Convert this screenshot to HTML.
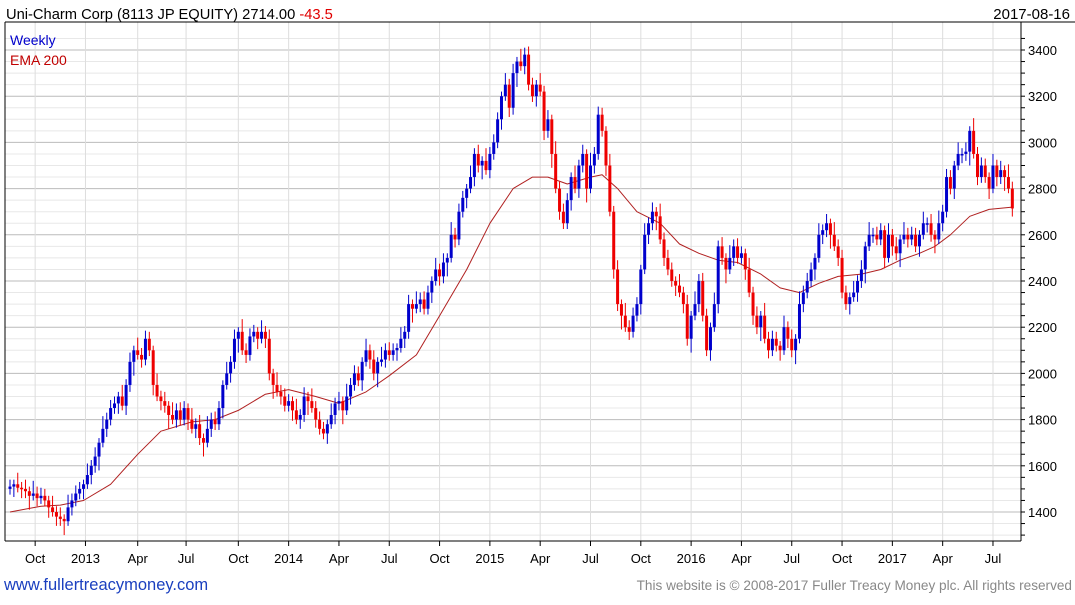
<!DOCTYPE html>
<html><head><meta charset="utf-8"><style>
body{margin:0;background:#fff;font-family:"Liberation Sans",sans-serif}
svg text{font-family:"Liberation Sans",sans-serif}
</style></head><body>
<svg id="c" width="1075" height="600" xmlns="http://www.w3.org/2000/svg">
<rect width="1075" height="600" fill="#fff"/>
<g id="grid"></g><g id="ema"></g><g id="candles"></g><g id="axes"></g>
<text x="6" y="19" font-size="14.7" fill="#000">Uni-Charm Corp (8113 JP EQUITY) 2714.00 <tspan fill="#e00000">-43.5</tspan></text>
<text x="1070" y="19" font-size="15" text-anchor="end" fill="#000">2017-08-16</text>
<text x="10" y="45" font-size="14" fill="#0000cc">Weekly</text>
<text x="10" y="65" font-size="14" fill="#c00000">EMA 200</text>
<text x="4" y="590" font-size="16.5" fill="#1a3fbf">www.fullertreacymoney.com</text>
<text x="1072" y="590" font-size="13.6" text-anchor="end" fill="#888">This website is © 2008-2017 Fuller Treacy Money plc. All rights reserved</text>
</svg>
<script>
const closes=[1510,1520,1505,1500,1490,1470,1480,1460,1470,1450,1420,1400,1380,
1370,1360,1420,1450,1480,1500,1520,1560,1600,1640,1700,1760,1800,
1850,1870,1900,1860,1950,2050,2100,2080,2060,2150,2100,1950,1900,
1880,1860,1820,1800,1840,1800,1850,1800,1760,1780,1720,1700,1760,
1800,1780,1850,1950,2000,2050,2150,2180,2100,2080,2160,2180,2150,
2180,2150,2000,1950,1920,1900,1860,1880,1840,1800,1820,1900,1880,
1850,1800,1760,1740,1780,1820,1870,1880,1840,1900,1950,2000,1970,
2050,2100,2060,2000,2050,2060,2100,2080,2100,2110,2150,2180,2300,
2280,2300,2320,2280,2350,2400,2450,2420,2480,2500,2600,2580,2700,
2760,2800,2850,2950,2900,2920,2880,2950,3000,3100,3200,3250,3150,
3300,3350,3330,3380,3250,3200,3250,3220,3050,3100,2950,2800,2700,
2650,2750,2850,2800,2900,2950,2800,2900,2950,3120,3050,2900,2700,
2450,2300,2250,2200,2180,2250,2300,2450,2600,2650,2700,2680,2580,
2500,2450,2400,2380,2350,2300,2150,2250,2300,2400,2250,2100,2200,
2300,2550,2500,2450,2500,2550,2500,2520,2450,2350,2250,2200,2250,
2150,2100,2150,2120,2100,2200,2150,2100,2150,2300,2350,2400,2450,
2500,2600,2620,2650,2600,2550,2500,2350,2300,2330,2350,2400,2450,
2550,2600,2600,2580,2620,2500,2600,2550,2520,2580,2600,2580,2600,
2550,2600,2650,2650,2600,2580,2650,2700,2850,2800,2900,2950,2950,
2960,3050,2950,2850,2900,2850,2800,2900,2850,2880,2850,2800,2714];
const firstOpen=1500;
const wickUp=[30,20,50,25,40,20,55,30,35];
const wickDn=[25,45,20,40,30,60,20,35,25];
const emaWeeks=[0,8,13,19,26,33,39,47,53,59,66,72,79,85,92,98,105,111,118,124,130,135,139,144,150,153,157,162,168,173,178,183,188,194,199,204,209,214,220,225,230,235,239,243,248,253,259];
const emaVals=[1400,1425,1430,1450,1520,1650,1750,1790,1800,1840,1910,1930,1900,1870,1920,1990,2080,2250,2450,2650,2800,2850,2850,2820,2850,2860,2800,2700,2650,2560,2520,2490,2480,2430,2370,2350,2390,2420,2430,2450,2490,2520,2550,2600,2680,2710,2720];
const yTicks=[1400,1600,1800,2000,2200,2400,2600,2800,3000,3200,3400];
const xLabels=["Oct","2013","Apr","Jul","Oct","2014","Apr","Jul","Oct","2015","Apr","Jul","Oct","2016","Apr","Jul","Oct","2017","Apr","Jul"];
const xLabelWeeks=[6.5,19.5,33,45.5,59,72,85,98,111,124,137,150,163,176,189,202,215,228,241,254];

const NS="http://www.w3.org/2000/svg";
const L=5,R=1021,T=22,B=541;
const X=i=>10+i*3.87;
const Y=p=>50+(3400-p)*0.231;
function mk(t,a,p){const e=document.createElementNS(NS,t);for(const k in a)e.setAttribute(k,a[k]);p.appendChild(e);return e;}
const grid=document.getElementById('grid'),ax=document.getElementById('axes');
for(let p=1300;p<=3450;p+=50){const y=Y(p);if(y<T||y>B)continue;
 const l=mk('line',{x1:L,x2:R,y1:y,y2:y,stroke:p%200===0?'#bbb':'#e8e8e8','stroke-width':1},grid);
 
 
 mk('line',{x1:R,x2:R+4,y1:y,y2:y,stroke:'#000'},ax);}
xLabelWeeks.forEach((w,k)=>{const x=X(w);
 const l=mk('line',{x1:x,x2:x,y1:T,y2:B,stroke:'#ddd'},grid);
 
 
 mk('line',{x1:x,x2:x,y1:B,y2:B+5,stroke:'#000'},ax);
 const t=mk('text',{x:x,y:563,'font-size':13,'text-anchor':'middle',fill:'#000'},ax);t.textContent=xLabels[k];
 
 });
yTicks.forEach(p=>{const t=mk('text',{x:1028,y:Y(p)+5,'font-size':13,fill:'#000'},ax);t.textContent=p;
 
 });
mk('line',{x1:L,x2:1075,y1:T,y2:T,stroke:'#000'},ax);
mk('line',{x1:R,x2:R,y1:T,y2:B,stroke:'#000'},ax);
mk('line',{x1:L,x2:R,y1:B,y2:B,stroke:'#000'},ax);
mk('line',{x1:L,x2:L,y1:T,y2:B,stroke:'#000'},ax);
let d='';emaWeeks.forEach((w,k)=>{d+=(k?'L':'M')+X(w).toFixed(1)+' '+Y(emaVals[k]).toFixed(1);});
const ep=mk('path',{d:d,fill:'none',stroke:'#b02020','stroke-width':1,'stroke-linejoin':'round'},document.getElementById('ema'));


const cg=document.getElementById('candles');
closes.forEach((c,i)=>{const o=i?closes[i-1]:firstOpen;const up=c>=o;const col=up?'#0000cc':'#ee0000';
 const hi=Math.max(o,c)+wickUp[i%wickUp.length],lo=Math.min(o,c)-wickDn[i%wickDn.length];const x=X(i);
 const g=mk('g',{},cg);
 
 
 mk('line',{x1:x,x2:x,y1:Y(hi),y2:Y(lo),stroke:col,'stroke-width':1},g);
 const top=Y(Math.max(o,c)),h=Math.max(1.5,Y(Math.min(o,c))-top);
 mk('rect',{x:x-1.5,y:top,width:3,height:h,fill:col},g);});
</script>
</body></html>
